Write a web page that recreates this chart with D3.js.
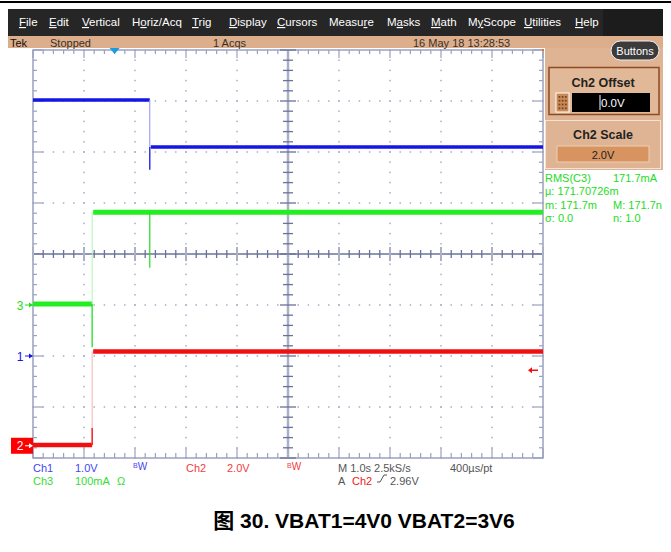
<!DOCTYPE html>
<html><head><meta charset="utf-8">
<script src="https://cdn.jsdelivr.net/npm/d3@7"></script>
<style>
html,body{margin:0;padding:0;background:#fff;}
svg{display:block;font-family:"Liberation Sans",Arial,sans-serif;}
</style></head>
<body>
<svg id="c" width="671" height="552"></svg>
<script>
// ---------- data ----------
const menuItems = ["File","Edit","Vertical","Horiz/Acq","Trig","Display","Cursors","Measure","Masks","Math","MyScope","Utilities","Help"];
const menuMnemonic = [0,0,0,1,0,0,0,5,1,0,1,0,0];
const menuX = [19,49,82,132,192,229,277,329,387,431,468,524,575];
const statusTexts = ["Tek","Stopped","1 Acqs","16 May 18 13:28:53"];
const statusX = [10,50,213,413];
// time axis: 1 s/div, 10 divisions
const timeDomain = [0,10];
const divDomain = [-4,4];
const triggerTime = 1.6;
// channel settings
const chPos = {ch1:-2.0, ch2:-3.76, ch3:-1.0};          // ground marker (div)
const chScale = {ch1:1.0, ch2:2.0, ch3:100};            // units / div
// Ch1 (blue, V)
const ch1Levels = [5.02, 4.10];
const ch1EdgeTime = 2.29;
const ch1Spike = 3.65;
// Ch2 (red, V)
const ch2Levels = [0.03, 3.70];
const ch2EdgeTime = 1.16;
const ch2Spike = 0.70;
const ch2TrigLevel = 2.96;
// Ch3 (green, mA)
const ch3Levels = [2, 182];
const ch3EdgeTime = 1.16;
const ch3Dip = -83;
const ch3GlitchTime = 2.29;
const ch3Glitch = 73;
// measurement readout
const measLeft = ["RMS(C3)","µ:  171.70726m","m: 171.7m","σ: 0.0"];
const measRight = ["171.7mA","","M: 171.7n","n:  1.0"];
const caption = "图 30. VBAT1=4V0 VBAT2=3V6";

// ---------- drawing ----------
const svg = d3.select("#c");
const x = d3.scaleLinear().domain(timeDomain).range([33,543]);
const y = d3.scaleLinear().domain(divDomain).range([458,50]);
const yCh = (ch,v) => y(chPos[ch] + v/chScale[ch]);

// top black rule
svg.append("rect").attr("x",0).attr("y",1).attr("width",671).attr("height",2).attr("fill","#000");
// menu bar
svg.append("rect").attr("x",8).attr("y",9).attr("width",655).attr("height",27).attr("fill","#262626");
svg.append("rect").attr("x",603).attr("y",9).attr("width",60).attr("height",27).attr("fill","#1c1c1c");
menuItems.forEach((m,i)=>{
  const t = svg.append("text").attr("x",menuX[i]).attr("y",26).attr("fill","#fff").attr("font-size",11.5);
  const k = menuMnemonic[i];
  if(k>0) t.append("tspan").text(m.slice(0,k));
  t.append("tspan").attr("text-decoration","underline").text(m[k]);
  t.append("tspan").text(m.slice(k+1));
});
// status bar
svg.append("rect").attr("x",8).attr("y",36).attr("width",655).attr("height",12).attr("fill","#dcae8c");
statusTexts.forEach((s,i)=>{
  svg.append("text").attr("x",statusX[i]).attr("y",46.5).attr("fill", i===0?"#111":"#3a3028")
    .attr("font-size",11).text(s);
});
// right panel
svg.append("rect").attr("x",545).attr("y",48).attr("width",118).attr("height",122).attr("fill","#dfb494");
// Buttons oval
svg.append("rect").attr("x",611).attr("y",41).attr("width",48).attr("height",19).attr("rx",9.5)
  .attr("fill","#3b3b3b").attr("stroke","#eee").attr("stroke-width",1);
svg.append("text").attr("x",635).attr("y",55).attr("text-anchor","middle").attr("fill","#fff").attr("font-size",11).text("Buttons");
// Ch2 offset box
svg.append("rect").attr("x",549).attr("y",67.5).attr("width",110).attr("height",47).attr("fill","#e2b998")
  .attr("stroke","#8e4a22").attr("stroke-width",1.5);
svg.append("text").attr("x",603).attr("y",87).attr("text-anchor","middle").attr("font-weight","bold")
  .attr("font-size",12.5).attr("fill","#222").text("Ch2 Offset");
svg.append("rect").attr("x",556).attr("y",93).attr("width",13).attr("height",19).attr("fill","#c98a58").attr("stroke","#fff");
[0,1,2].forEach(r=>[0,1,2,3].forEach(c=>{
  svg.append("rect").attr("x",558.5+r*3.2).attr("y",96+c*3.8).attr("width",1.8).attr("height",1.8).attr("fill","#7a4420");
}));
svg.append("rect").attr("x",572).attr("y",93).attr("width",78).attr("height",19).attr("fill","#000");
svg.append("line").attr("x1",600).attr("x2",600).attr("y1",95).attr("y2",110).attr("stroke","#fff");
svg.append("text").attr("x",601).attr("y",107).attr("fill","#fff").attr("font-size",11.5).text("0.0V");
// Ch2 scale box
svg.append("rect").attr("x",545.5).attr("y",120.5).attr("width",115).attr("height",48).attr("fill","#dfb494")
  .attr("stroke","#f4e2d2").attr("stroke-width",1);
svg.append("text").attr("x",603).attr("y",139).attr("text-anchor","middle").attr("font-weight","bold")
  .attr("font-size",12.5).attr("fill","#222").text("Ch2 Scale");
svg.append("rect").attr("x",557).attr("y",146).attr("width",92).attr("height",16).attr("fill","#d79461")
  .attr("stroke","#f0d0b0").attr("stroke-width",1);
svg.append("text").attr("x",603).attr("y",158.5).attr("text-anchor","middle").attr("font-size",11).attr("fill","#222").text("2.0V");
// measurements
measLeft.forEach((s,i)=>{
  svg.append("text").attr("x",545).attr("y",182+i*13.3).attr("fill","#22dd22").attr("font-size",11).text(s);
  if(measRight[i]) svg.append("text").attr("x",613).attr("y",182+i*13.3).attr("fill","#22dd22").attr("font-size",11).text(measRight[i]);
});

// ---------- graticule ----------
const g = svg.append("g");
const gridCol = "#a6adc8", frameCol = "#9aa1c0", centerCol = "#6a729a";
const minorT = d3.range(0,50.001,1).map(i=>timeDomain[0]+i*0.2);
const minorD = d3.range(0,40.001,1).map(i=>divDomain[0]+i*0.2);
const majorT = d3.range(1,10);
const majorD = d3.range(-3,4);
// dotted grid lines
majorT.filter(t=>t!==5).forEach(t=>{
  minorD.forEach(d=>g.append("rect").attr("x",x(t)-0.75).attr("y",y(d)-0.75).attr("width",1.5).attr("height",1.5).attr("fill",gridCol));
});
majorD.filter(d=>d!==0).forEach(d=>{
  minorT.forEach(t=>g.append("rect").attr("x",x(t)-0.75).attr("y",y(d)-0.75).attr("width",1.5).attr("height",1.5).attr("fill",gridCol));
});
// frame
g.append("rect").attr("x",x(0)).attr("y",y(4)).attr("width",x(10)-x(0)).attr("height",y(-4)-y(4))
  .attr("fill","none").attr("stroke",frameCol).attr("stroke-width",1.5);
// edge ticks
minorT.forEach((t,i)=>{
  const maj = i%5===0;
  const L = maj?8:4;
  g.append("line").attr("x1",x(t)).attr("x2",x(t)).attr("y1",y(4)).attr("y2",y(4)+L).attr("stroke",frameCol).attr("stroke-width",1.2);
  g.append("line").attr("x1",x(t)).attr("x2",x(t)).attr("y1",y(-4)).attr("y2",y(-4)-(maj?10:5)).attr("stroke",frameCol).attr("stroke-width",1.2);
});
minorD.forEach((d,i)=>{
  const maj = i%5===0;
  const L = maj?10:4;
  g.append("line").attr("y1",y(d)).attr("y2",y(d)).attr("x1",x(0)).attr("x2",x(0)+L).attr("stroke",frameCol).attr("stroke-width",1.2);
  g.append("line").attr("y1",y(d)).attr("y2",y(d)).attr("x1",x(10)).attr("x2",x(10)-(maj?10:4)).attr("stroke",frameCol).attr("stroke-width",1.2);
});
// center crosshair
g.append("line").attr("x1",x(0)).attr("x2",x(10)).attr("y1",y(0)).attr("y2",y(0)).attr("stroke",centerCol).attr("stroke-width",1.3);
g.append("line").attr("x1",x(5)).attr("x2",x(5)).attr("y1",y(4)).attr("y2",y(-4)).attr("stroke","#aab0c8").attr("stroke-width",2.5);
minorT.forEach((t,i)=>{
  const maj = i%5===0;
  g.append("line").attr("x1",x(t)).attr("x2",x(t)).attr("y1",y(0)-(maj?7:4)).attr("y2",y(0)+(maj?7:4))
    .attr("stroke",maj?"#aab0c8":centerCol).attr("stroke-width",maj?2:1.3);
});
minorD.forEach((d,i)=>{
  const maj = i%5===0;
  g.append("line").attr("y1",y(d)).attr("y2",y(d)).attr("x1",x(5)-(maj?8:5)).attr("x2",x(5)+(maj?8:5))
    .attr("stroke",centerCol).attr("stroke-width",1.3);
});
// top-right orange corner mark
svg.append("rect").attr("x",x(10)-1).attr("y",y(4)-1).attr("width",2).attr("height",2).attr("fill","#f07020");
// trigger position marker
svg.append("path").attr("d",`M${x(triggerTime)-5},${y(4)-2} L${x(triggerTime)+5},${y(4)-2} L${x(triggerTime)},${y(4)+4} Z`).attr("fill","#1a9ae0");

// ---------- traces ----------
const tr = svg.append("g");
function trace(ch,col,faint,levels,tEdge,widths){
  tr.append("line").attr("x1",x(0)).attr("x2",x(tEdge)).attr("y1",yCh(ch,levels[0])).attr("y2",yCh(ch,levels[0]))
    .attr("stroke",col).attr("stroke-width",widths[0]);
  tr.append("line").attr("x1",x(tEdge)+1).attr("x2",x(10)).attr("y1",yCh(ch,levels[1])).attr("y2",yCh(ch,levels[1]))
    .attr("stroke",col).attr("stroke-width",widths[1]);
  tr.append("line").attr("x1",x(tEdge)).attr("x2",x(tEdge)).attr("y1",yCh(ch,levels[0])).attr("y2",yCh(ch,levels[1]))
    .attr("stroke",faint).attr("stroke-width",1);
}
// ch1 blue
trace("ch1","#1515e6","#9090f0",ch1Levels,ch1EdgeTime,[3.5,3.5]);
tr.append("line").attr("x1",x(ch1EdgeTime)).attr("x2",x(ch1EdgeTime)).attr("y1",yCh("ch1",ch1Levels[1])).attr("y2",yCh("ch1",ch1Spike))
  .attr("stroke","#1515e6").attr("stroke-width",1.3);
// ch3 green
trace("ch3","#22ee22","#b0f4b0",ch3Levels,ch3EdgeTime,[5,5]);
tr.append("line").attr("x1",x(ch3EdgeTime)).attr("x2",x(ch3EdgeTime)).attr("y1",yCh("ch3",ch3Levels[0])).attr("y2",yCh("ch3",ch3Dip))
  .attr("stroke","#22dd22").attr("stroke-width",1.3);
tr.append("line").attr("x1",x(ch3GlitchTime)).attr("x2",x(ch3GlitchTime)).attr("y1",yCh("ch3",ch3Levels[1])).attr("y2",yCh("ch3",ch3Glitch))
  .attr("stroke","#22dd22").attr("stroke-width",1.2);
// ch2 red
trace("ch2","#f01010","#f8b0b0",ch2Levels,ch2EdgeTime,[4.5,4.5]);
tr.append("line").attr("x1",x(ch2EdgeTime)).attr("x2",x(ch2EdgeTime)).attr("y1",yCh("ch2",ch2Levels[0])).attr("y2",yCh("ch2",ch2Spike))
  .attr("stroke","#f01010").attr("stroke-width",1.3);

// ---------- channel markers ----------
function marker(ch,label,col,boxed){
  const yy = yCh(ch,0);
  if(boxed){
    svg.append("rect").attr("x",11).attr("y",yy-8).attr("width",22).attr("height",16).attr("fill","#f00");
  }
  svg.append("text").attr("x",20).attr("y",yy+4.5).attr("text-anchor","middle").attr("font-size",12)
    .attr("fill",boxed?"#fff":col).text(label);
  const c = boxed?"#fff":col;
  svg.append("line").attr("x1",25).attr("x2",32).attr("y1",yy).attr("y2",yy).attr("stroke",c).attr("stroke-width",1);
  svg.append("path").attr("d",`M${29},${yy-2.5} L${33},${yy} L${29},${yy+2.5} Z`).attr("fill",c);
}
marker("ch3","3","#22dd22",false);
marker("ch1","1","#1515e6",false);
marker("ch2","2","#f00",true);
// trigger level arrow
{
  const yy = yCh("ch2",ch2TrigLevel);
  svg.append("line").attr("x1",531).attr("x2",538).attr("y1",yy).attr("y2",yy).attr("stroke","#f01010").attr("stroke-width",1.5);
  svg.append("path").attr("d",`M528,${yy} L532,${yy-3} L532,${yy+3} Z`).attr("fill","#f01010");
}

// ---------- bottom readouts ----------
const rd = [
  [33,472,"Ch1","#4646ee"],[75,472,"1.0V","#4646ee"],[186,472,"Ch2","#f04040"],[227,472,"2.0V","#f04040"],
  [338,472,"M 1.0s 2.5kS/s","#555"],[450,472,"400µs/pt","#555"],
  [33,485,"Ch3","#33dd33"],[75,485,"100mA","#33dd33"],[117,485,"Ω","#33dd33"],
  [338,485,"A","#555"],[352,485,"Ch2","#f02020"],[390,485,"2.96V","#555"]
];
rd.forEach(r=>svg.append("text").attr("x",r[0]).attr("y",r[1]).attr("fill",r[3]).attr("font-size",11).text(r[2]));
// Bw labels
[[133,"#4646ee"],[287,"#f04040"]].forEach(b=>{
  const t = svg.append("text").attr("x",b[0]).attr("y",470).attr("fill",b[1]).attr("font-size",10);
  t.append("tspan").attr("font-size",7).attr("dy",-2).text("B");
  t.append("tspan").attr("dy",2).text("W");
});
// rising slope symbol
svg.append("path").attr("d","M377,482 L380,482 L384,475 L387,475").attr("fill","none").attr("stroke","#555").attr("stroke-width",1);

// ---------- caption ----------
svg.append("text").attr("x",364).attr("y",528).attr("text-anchor","middle").attr("font-size",21)
  .attr("font-weight","bold").attr("fill","#000")
  .attr("font-family","'Liberation Sans','Noto Sans CJK SC',Arial,sans-serif").text(caption);
</script>
</body></html>
